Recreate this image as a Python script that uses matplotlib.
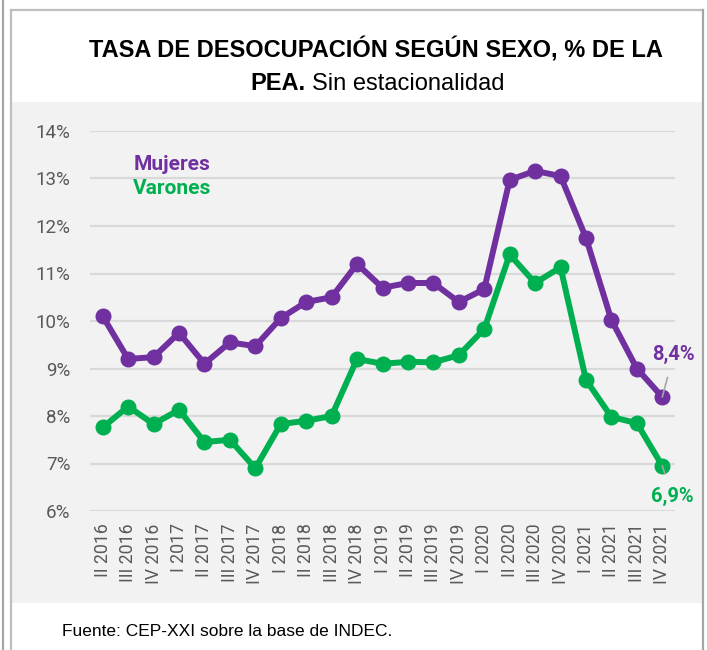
import matplotlib
matplotlib.use("Agg")
import matplotlib.pyplot as plt
from matplotlib.patches import Rectangle
from matplotlib.lines import Line2D

# ---- data ----
quarters = ["II 2016", "III 2016", "IV 2016", "I 2017", "II 2017", "III 2017", "IV 2017",
            "I 2018", "II 2018", "III 2018", "IV 2018", "I 2019", "II 2019", "III 2019",
            "IV 2019", "I 2020", "II 2020", "III 2020", "IV 2020", "I 2021", "II 2021",
            "III 2021", "IV 2021"]
mujeres = [10.1, 9.2, 9.24, 9.75, 9.1, 9.55, 9.47, 10.06, 10.4, 10.5, 11.2, 10.7, 10.8,
           10.8, 10.4, 10.67, 12.97, 13.16, 13.05, 11.75, 10.02, 9.0, 8.4]
varones = [7.76, 8.2, 7.83, 8.13, 7.45, 7.5, 6.9, 7.83, 7.9, 8.0, 9.2, 9.1, 9.14, 9.13,
           9.28, 9.83, 11.4, 10.8, 11.13, 8.76, 7.98, 7.85, 6.95]
yticks = [6, 7, 8, 9, 10, 11, 12, 13, 14]
ytick_labels = ["6%", "7%", "8%", "9%", "10%", "11%", "12%", "13%", "14%"]
label_muj = "8,4%"
label_var = "6,9%"

PURPLE = "#7030a0"
GREEN = "#00b050"
TICK = "#595959"

W, H = 707, 650
fig = plt.figure(figsize=(W / 100, H / 100), dpi=100)
fig.patch.set_facecolor("white")

# background / frame in pixel coords (y measured from top)
bg = fig.add_axes([0, 0, 1, 1])
bg.set_xlim(0, W)
bg.set_ylim(H, 0)
bg.axis("off")
bg.add_patch(Rectangle((12, 102), 690, 501, facecolor="#f2f2f2", edgecolor="none"))
bg.add_line(Line2D([3, 3], [0, H], color="#a6a6a6", lw=1.6))
bg.add_line(Line2D([11, 11], [10, H], color="#bfbfbf", lw=1.6))
bg.add_line(Line2D([11, 703], [10, 10], color="#bfbfbf", lw=1.6))
bg.add_line(Line2D([703, 703], [10, H], color="#a6a6a6", lw=1.6))

# title
bg.text(376, 50, "TASA DE DESOCUPACIÓN SEGÚN SEXO, % DE LA", ha="center", va="center",
        fontsize=17, fontweight="bold", family="Liberation Sans", color="black")
bg.text(250, 84, "PEA.", ha="left", va="center", fontsize=17, fontweight="bold",
        family="Liberation Sans", color="black")
bg.text(312, 84, "Sin estacionalidad", ha="left", va="center", fontsize=17,
        family="Liberation Sans", color="black")
bg.text(62, 632, "Fuente: CEP-XXI sobre la base de INDEC.", ha="left", va="center",
        fontsize=12.5, family="Liberation Sans", color="black")

# main axes: x 90..675 px, y 131..511 px (from top)
ax = fig.add_axes([90 / W, (H - 511) / H, 585 / W, 380 / H])
ax.set_facecolor("none")
x = list(range(len(quarters)))
ax.plot(x, mujeres, color=PURPLE, lw=4.3, marker="o", ms=10.5, solid_joinstyle="round",
        zorder=3, clip_on=False)
ax.plot(x, varones, color=GREEN, lw=4.3, marker="o", ms=10.5, solid_joinstyle="round",
        zorder=3, clip_on=False)
ax.set_xlim(-0.5, len(quarters) - 0.5)
ax.set_ylim(6, 14)
ax.set_yticks(yticks)
ax.set_yticklabels(ytick_labels, family="Roboto", fontsize=13.5, color=TICK)
ax.set_xticks(x)
ax.set_xticklabels(quarters, rotation=90, family="Roboto", fontsize=12.8, color=TICK,
                   va="top", ha="center")
ax.tick_params(axis="both", length=0)
ax.tick_params(axis="x", pad=9)
ax.tick_params(axis="y", pad=14)
ax.grid(axis="y", color="#d9d9d9", lw=1.6)
ax.set_axisbelow(True)
for s in ax.spines.values():
    s.set_visible(False)

# legend texts
ax.text(1.2, 13.3, "Mujeres", color=PURPLE, fontsize=15, fontweight="bold", family="Roboto",
        va="center", ha="left")
ax.text(1.2, 12.78, "Varones", color=GREEN, fontsize=15, fontweight="bold", family="Roboto",
        va="center", ha="left")

# end labels with leaders
last = len(quarters) - 1
ax.annotate(label_muj, xy=(last, mujeres[-1]), xytext=(last + 0.45, 9.3),
            color=PURPLE, fontsize=14.5, fontweight="bold", family="Roboto",
            ha="center", va="center", annotation_clip=False,
            arrowprops=dict(arrowstyle="-", color="#a6a6a6", lw=1.2, shrinkA=8, shrinkB=0))
ax.annotate(label_var, xy=(last, varones[-1]), xytext=(last + 0.4, 6.3),
            color=GREEN, fontsize=14.5, fontweight="bold", family="Roboto",
            ha="center", va="center", annotation_clip=False,
            arrowprops=dict(arrowstyle="-", color="#a6a6a6", lw=1.2, shrinkA=8, shrinkB=0))

fig.savefig("out.png", dpi=100, facecolor="white")
